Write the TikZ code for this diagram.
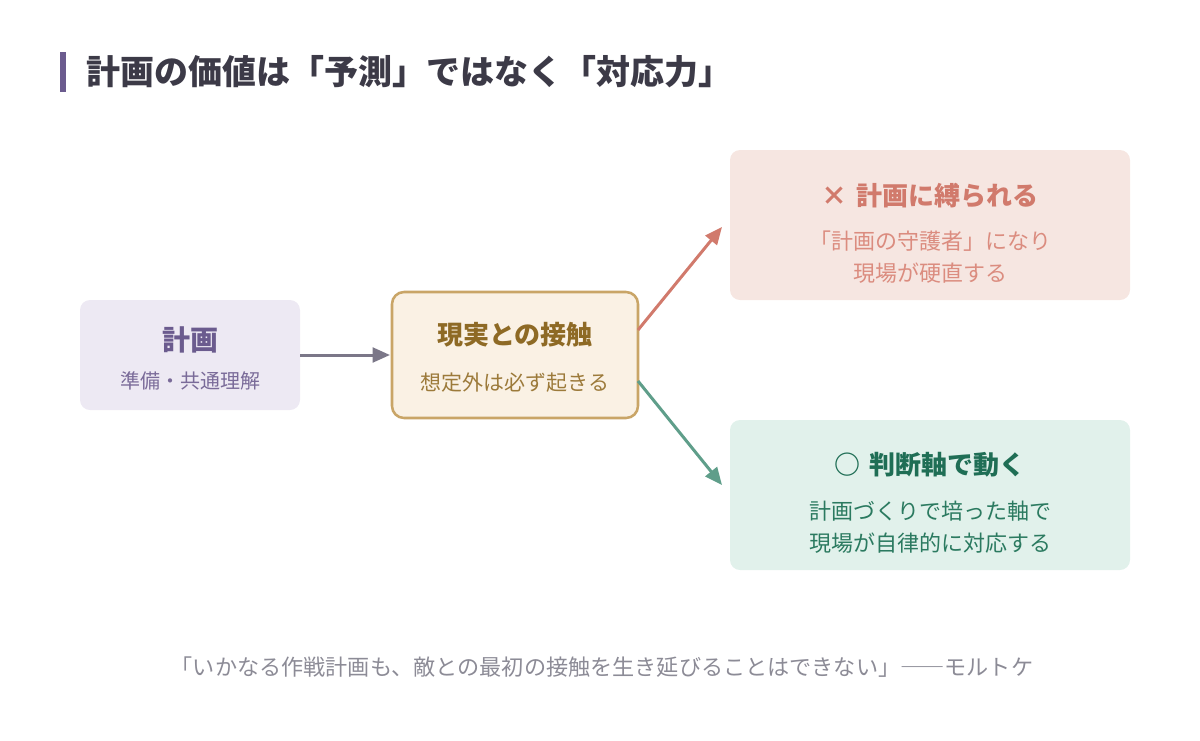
\documentclass[tikz,border=0pt]{standalone}
\usepackage{fontspec}
\setmainfont{Noto Sans CJK JP}
\usepackage{xcolor}
\usetikzlibrary{arrows.meta}

\definecolor{planpurple}{HTML}{6B5B8E}
\definecolor{planfill}{HTML}{EDE9F3}
\definecolor{titleink}{HTML}{3C3A47}
\definecolor{flowgray}{HTML}{7B7788}
\definecolor{contactfill}{HTML}{FAF1E4}
\definecolor{contactline}{HTML}{C9A567}
\definecolor{contactink}{HTML}{8E6A25}
\definecolor{contactsub}{HTML}{9C7A3A}
\definecolor{badfill}{HTML}{F6E6E1}
\definecolor{badink}{HTML}{D17A6C}
\definecolor{badsub}{HTML}{DB8C7F}
\definecolor{goodfill}{HTML}{E1F1EB}
\definecolor{goodink}{HTML}{1F6E55}
\definecolor{goodsub}{HTML}{2B7A60}
\definecolor{goodarrow}{HTML}{5F9E8A}
\definecolor{quoteink}{HTML}{8C8B96}

\tikzset{
    card/.style={
        inner sep=0pt, outer sep=0pt,
        rounded corners=7.5pt
        },
    headtext/.style={font=\fontsize{#1}{#1}\selectfont\bfseries},
    subtext/.style={font=\fontsize{#1}{24pt}\selectfont, align=center},
    flow/.style={
        line width=2.25pt,
        -{Triangle[length=13pt,width=11pt]}
        }
}

\begin{document}
\begin{tikzpicture}[x=0.75pt, y=-0.75pt]
    \useasboundingbox (0,0) rectangle (1200,740);

    % 見出し
    \fill[planpurple] (60,52) rectangle (66,92);
    \node[anchor=west, headtext=25.5pt, text=titleink] (heading) at (82,72)
        {計画の価値は「予測」ではなく「対応力」};

    % 左: 計画
    \node[card, fill=planfill, minimum width=165pt, minimum height=82.5pt] (plan) at (190,355) {};
    \node[headtext=21pt, text=planpurple] (plan-title) at (190,340) {計画};
    \node[subtext=15pt, text=planpurple!90!white] (plan-sub) at (190,381) {準備・共通理解};

    % 中央: 現実との接触
    \node[card, fill=contactfill, draw=contactline, line width=1.9pt,
        rounded corners=9pt,
        minimum width=184.5pt, minimum height=94.5pt] (contact) at (515,355) {};
    \node[headtext=19.5pt, text=contactink] (contact-title) at (515,335) {現実との接触};
    \node[subtext=15.75pt, text=contactsub] (contact-sub) at (515,383) {想定外は必ず起きる};

    % 右上: 計画に縛られる
    \node[card, fill=badfill, minimum width=300pt, minimum height=112.5pt] (bound) at (930,225) {};
    \node[headtext=19.5pt, text=badink] (bound-title) at (930,196) {×\hspace{3pt} 計画に縛られる};
    \node[subtext=16.5pt, text=badsub] (bound-sub) at (930,257)
        {「計画の守護者」になり\\現場が硬直する};

    % 右下: 判断軸で動く
    \node[card, fill=goodfill, minimum width=300pt, minimum height=112.5pt] (axis) at (930,495) {};
    \node[headtext=19.5pt, text=goodink] (axis-title) at (930,465) {○\hspace{2pt} 判断軸で動く};
    \node[subtext=16.5pt, text=goodsub] (axis-sub) at (930,527)
        {計画づくりで培った軸で\\現場が自律的に対応する};

    % 矢印
    \draw[flow, flowgray] (plan.east) -- ([xshift=-1.5pt]contact.west);
    \draw[flow, badink] ([yshift=18.75pt]contact.east) -- ([xshift=-6pt,yshift=-1.5pt]bound.west);
    \draw[flow, goodarrow] ([yshift=-19.5pt]contact.east) -- ([xshift=-6pt,yshift=7.5pt]axis.west);

    % 引用
    \node[font=\fontsize{16.6pt}{16.6pt}\selectfont, text=quoteink] (quote) at (602,667)
        {「いかなる作戦計画も、敵との最初の接触を生き延びることはできない」――モルトケ};
\end{tikzpicture}
\end{document}
